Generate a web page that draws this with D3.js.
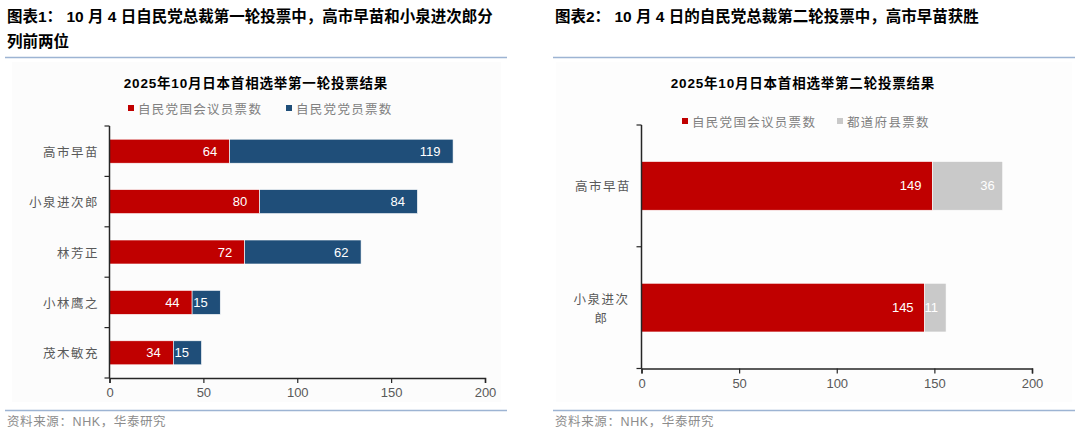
<!DOCTYPE html>
<html>
<head>
<meta charset="utf-8">
<script src="https://cdn.jsdelivr.net/npm/d3@7/dist/d3.min.js"></script>
<style>
  html, body { margin: 0; padding: 0; background: #fff; }
  svg { display: block; }
</style>
</head>
<body>
<svg id="chart" width="1080" height="435"></svg>
<script>
// ---------- DATA ----------
const round1Candidates = ["高市早苗", "小泉进次郎", "林芳正", "小林鹰之", "茂木敏充"];
const round1Diet = [64, 80, 72, 44, 34];
const round1Members = [119, 84, 62, 15, 15];
const round1Series = ["自民党国会议员票数", "自民党党员票数"];

const round2Candidates = ["高市早苗", "小泉进次郎"];
const round2Diet = [149, 145];
const round2Prefecture = [36, 11];
const round2Series = ["自民党国会议员票数", "都道府县票数"];

const xTicks = [0, 50, 100, 150, 200];

const panelTitles = [
  ["图表1：  10 月 4 日自民党总裁第一轮投票中，高市早苗和小泉进次郎分", "列前两位"],
  ["图表2：  10 月 4 日的自民党总裁第二轮投票中，高市早苗获胜"]
];
const chartTitles = ["2025年10月日本首相选举第一轮投票结果", "2025年10月日本首相选举第二轮投票结果"];
const sourceText = "资料来源：NHK，华泰研究";

// ---------- STYLE ----------
const RED = "#C00000", BLUE = "#1F4E79", GRAY = "#C9C9C9";
const FONT = "'Liberation Sans', Arial, 'Noto Sans CJK SC', sans-serif";
const CJK = "'Noto Sans CJK SC', 'Liberation Sans', sans-serif";
const svg = d3.select("#chart");

function panelFrame(x0, x1, titleLines) {
  titleLines.forEach((t, i) => {
    svg.append("text").attr("x", x0 + 2).attr("y", 16 + i * 25)
      .attr("dominant-baseline", "central")
      .attr("font-family", FONT).attr("font-weight", "bold").attr("font-size", 15.5)
      .attr("fill", "#000").text(t);
  });
  svg.append("line").attr("x1", x0).attr("x2", x1).attr("y1", 57.5).attr("y2", 57.5)
    .attr("stroke", "#9DB4D3").attr("stroke-width", 1.5);
  svg.append("line").attr("x1", x0).attr("x2", x1).attr("y1", 410.5).attr("y2", 410.5)
    .attr("stroke", "#9DB4D3").attr("stroke-width", 1.5);
  svg.append("text").attr("x", x0 + 2).attr("y", 422).attr("dominant-baseline", "central")
    .attr("font-family", FONT).attr("font-size", 12.5).attr("fill", "#8c8c8c")
    .attr("letter-spacing", 0.6).text(sourceText);
}

function drawChart(cfg) {
  const g = svg.append("g");
  const x = d3.scaleLinear().domain([0, 200]).range([cfg.x0, cfg.x1]);
  const y = d3.scaleBand().domain(cfg.cats).range([cfg.yTop, cfg.yBot])
    .paddingInner(cfg.pad).paddingOuter(cfg.pad / 2);

  // title
  g.append("text").attr("x", cfg.titleX).attr("y", 83).attr("text-anchor", "middle")
    .attr("dominant-baseline", "central").attr("font-family", FONT).attr("font-weight", "bold")
    .attr("font-size", 13.5).attr("letter-spacing", 0.8).attr("fill", "#000").text(cfg.title);

  // legend
  cfg.legend.forEach((l, i) => {
    g.append("rect").attr("x", l.x).attr("y", cfg.legendY - 3).attr("width", 6).attr("height", 6)
      .attr("fill", l.color);
    g.append("text").attr("x", l.x + 10).attr("y", cfg.legendY).attr("dominant-baseline", "central")
      .attr("font-family", CJK).attr("font-size", 12.5).attr("letter-spacing", 1.3)
      .attr("fill", "#808080").text(l.name);
  });

  // bars
  const stack = cfg.cats.map((c, i) => ({ c, a: cfg.s1[i], b: cfg.s2[i] }));
  const rows = g.selectAll("g.row").data(stack).join("g");
  rows.append("rect").attr("x", d => x(0)).attr("y", d => y(d.c))
    .attr("width", d => x(d.a) - x(0)).attr("height", y.bandwidth())
    .attr("fill", cfg.c1).attr("stroke", "#fff").attr("stroke-width", 0.6);
  rows.append("rect").attr("x", d => x(d.a)).attr("y", d => y(d.c))
    .attr("width", d => x(d.a + d.b) - x(d.a)).attr("height", y.bandwidth())
    .attr("fill", cfg.c2).attr("stroke", "#fff").attr("stroke-width", 0.6);
  rows.append("text").attr("x", d => x(d.a) - cfg.labelPad).attr("y", d => y(d.c) + y.bandwidth() / 2)
    .attr("text-anchor", "end").attr("dominant-baseline", "central")
    .attr("font-family", FONT).attr("font-size", 13).attr("fill", "#fff").text(d => d.a);
  rows.append("text").attr("x", d => x(d.a + d.b) - cfg.labelPad2).attr("y", d => y(d.c) + y.bandwidth() / 2)
    .attr("text-anchor", "end").attr("dominant-baseline", "central")
    .attr("font-family", FONT).attr("font-size", 13).attr("fill", "#fff").text(d => d.b);

  // x axis
  const xAxis = d3.axisBottom(x).tickValues(xTicks).tickSize(5).tickPadding(5);
  const xa = g.append("g").attr("transform", `translate(0,${cfg.yBot})`).call(xAxis);
  xa.select(".domain").attr("stroke", "#262626").attr("stroke-width", 1.5);
  xa.selectAll(".tick line").attr("stroke", "#262626").attr("stroke-width", 1.2);
  xa.selectAll(".tick text").attr("font-family", FONT).attr("font-size", 13).attr("fill", "#595959");

  // y axis line + boundary ticks
  g.append("line").attr("x1", cfg.x0).attr("x2", cfg.x0).attr("y1", cfg.yTop).attr("y2", cfg.yBot)
    .attr("stroke", "#262626").attr("stroke-width", 1.5);
  d3.range(cfg.cats.length + 1).forEach(i => {
    const yy = cfg.yTop + i * y.step();
    g.append("line").attr("x1", cfg.x0 - 5).attr("x2", cfg.x0).attr("y1", yy).attr("y2", yy)
      .attr("stroke", "#262626").attr("stroke-width", 1.2);
  });

  // category labels
  cfg.cats.forEach(c => {
    const lines = c.length > cfg.maxChars ? [c.slice(0, cfg.maxChars), c.slice(cfg.maxChars)] : [c];
    const cy = y(c) + y.bandwidth() / 2;
    const lh = 19;
    lines.forEach((ln, i) => {
      const t = g.append("text").attr("y", cy + (i - (lines.length - 1) / 2) * lh)
        .attr("dominant-baseline", "central").attr("font-family", CJK).attr("font-size", 12.5)
        .attr("letter-spacing", 1.5).attr("fill", "#595959").text(ln);
      if (lines.length > 1) {
        t.attr("x", cfg.x0 - 12 - cfg.maxChars * 14 / 2).attr("text-anchor", "middle");
      } else {
        t.attr("x", cfg.x0 - 12 + 1.5).attr("text-anchor", "end");
      }
    });
  });
}

// faint chart-area backgrounds
svg.append("rect").attr("x", 12).attr("y", 62).attr("width", 489).attr("height", 340).attr("fill", "#fcfcfc");
svg.append("rect").attr("x", 556).attr("y", 62).attr("width", 516).attr("height", 340).attr("fill", "#fdfdfd");

panelFrame(5, 507, panelTitles[0]);
panelFrame(553, 1075, panelTitles[1]);

drawChart({
  cats: round1Candidates, s1: round1Diet, s2: round1Members, c1: RED, c2: BLUE,
  x0: 109.5, x1: 485, yTop: 126, yBot: 378, pad: 0.524,
  title: chartTitles[0], titleX: 256,
  legendY: 108, legend: [{ name: round1Series[0], color: RED, x: 128 }, { name: round1Series[1], color: BLUE, x: 286 }],
  labelPad: 12.5, labelPad2: 12.5, maxChars: 10
});

drawChart({
  cats: round2Candidates, s1: round2Diet, s2: round2Prefecture, c1: RED, c2: GRAY,
  x0: 641.5, x1: 1032, yTop: 125, yBot: 368.5, pad: 0.6,
  title: chartTitles[1], titleX: 803,
  legendY: 121, legend: [{ name: round2Series[0], color: RED, x: 682 }, { name: round2Series[1], color: GRAY, x: 837 }],
  labelPad: 11, labelPad2: 8, maxChars: 4
});
</script>
</body>
</html>
